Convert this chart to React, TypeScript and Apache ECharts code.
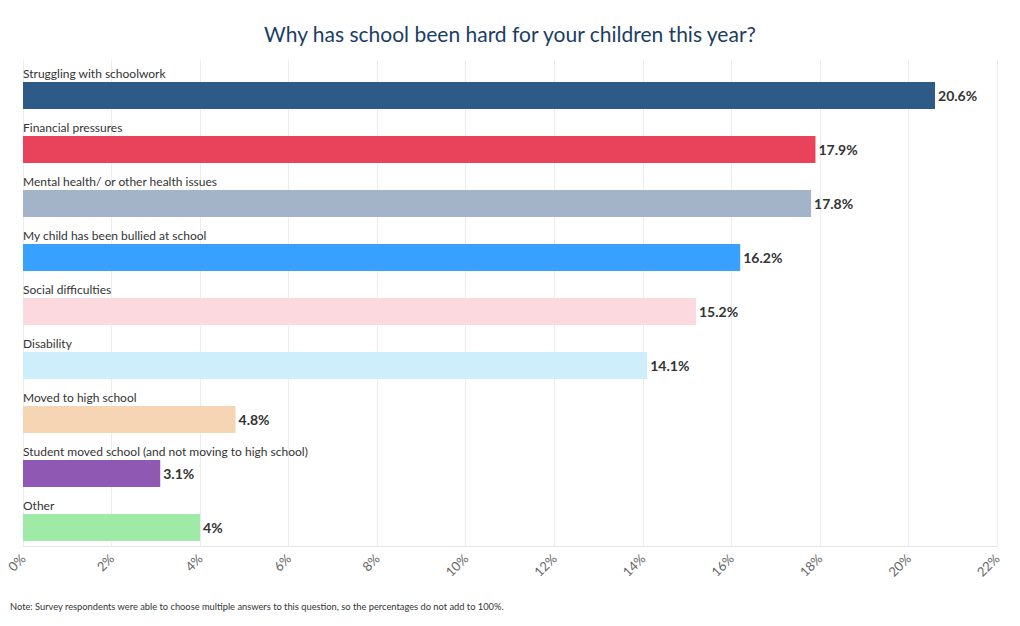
import React, { useEffect, useRef } from "react";
import * as echarts from "echarts";

const categories = [
  "Struggling with schoolwork",
  "Financial pressures",
  "Mental health/ or other health issues",
  "My child has been bullied at school",
  "Social difficulties",
  "Disability",
  "Moved to high school",
  "Student moved school (and not moving to high school)",
  "Other",
];
const values = [20.6, 17.9, 17.8, 16.2, 15.2, 14.1, 4.8, 3.1, 4];
const colors = [
  "#2e5a87",
  "#e8435a",
  "#a3b4c8",
  "#38a0ff",
  "#fbd9de",
  "#cfeefb",
  "#f5d5b3",
  "#8e58b3",
  "#9eeaa6",
];
const ticks = [0, 2, 4, 6, 8, 10, 12, 14, 16, 18, 20, 22];
const title = "Why has school been hard for your children this year?";
const note =
  "Note: Survey respondents were able to choose multiple answers to this question, so the percentages do not add to 100%.";

const FONT = "Lato";

export default function App() {
  const ref = useRef<HTMLDivElement>(null);
  useEffect(() => {
    const chart = echarts.init(ref.current!, null, { renderer: "svg" });
    chart.setOption({
      animation: false,
      textStyle: { fontFamily: FONT },
      title: {
        text: title,
        left: "center",
        top: 18,
        textStyle: { fontFamily: FONT, fontSize: 21, fontWeight: "normal", color: "#1a3e63" },
      },
      graphic: [
        {
          type: "text",
          left: 10,
          top: 602,
          style: { text: note, fontFamily: FONT, fontSize: 9.3, fill: "#333" },
        },
      ],
      grid: { left: 23, right: 23, top: 60, bottom: 80, containLabel: false },
      xAxis: {
        type: "value",
        min: ticks[0],
        max: ticks[ticks.length - 1],
        interval: 2,
        axisLine: { show: true, lineStyle: { color: "#e6e6e6" } },
        axisTick: { show: false },
        splitLine: { show: true, lineStyle: { color: "#ececec" } },
        axisLabel: {
          rotate: 45,
          color: "#666",
          fontSize: 13,
          fontFamily: FONT,
          margin: 10,
          formatter: (v: number) => v + "%",
        },
      },
      yAxis: {
        type: "category",
        data: categories,
        inverse: true,
        axisLine: { show: false },
        axisTick: { show: false },
        axisLabel: { show: false },
        splitLine: { show: false },
      },
      series: [
        {
          type: "bar",
          barWidth: 17,
          barGap: 0,
          silent: true,
          data: values.map(() => 22),
          itemStyle: { color: "rgba(0,0,0,0)" },
          label: {
            show: true,
            position: "insideLeft",
            distance: 0,
            color: "#333",
            fontSize: 12,
            fontFamily: FONT,
            formatter: (p: any) => categories[p.dataIndex],
          },
        },
        {
          type: "bar",
          barWidth: 27,
          barGap: 0,
          data: values.map((v, i) => ({ value: v, itemStyle: { color: colors[i] } })),
          label: {
            show: true,
            position: "right",
            distance: 3,
            color: "#333",
            fontSize: 14,
            fontWeight: "bold",
            fontFamily: FONT,
            formatter: (p: any) => p.value + "%",
          },
        },
      ],
    });
    return () => chart.dispose();
  }, []);
  return <div ref={ref} style={{ width: 1020, height: 626, margin: -8 }} />;
}
